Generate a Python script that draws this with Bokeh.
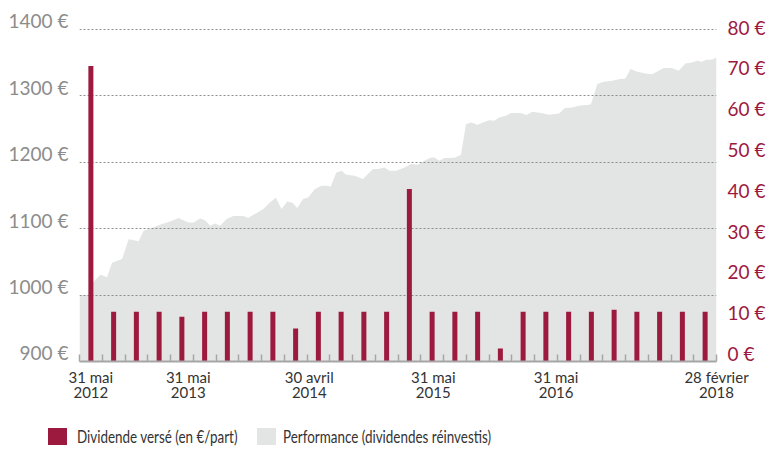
import numpy as np
from bokeh.plotting import figure
from bokeh.layouts import column
from bokeh.models import Range1d, LinearAxis, FixedTicker, Div
from bokeh.embed import file_html
from bokeh.resources import INLINE

# ---- data -------------------------------------------------------------
# dividend paid per period (EUR per share), one bar per period
dividend_per_share = [72.5, 12.2, 12.2, 12.2, 11.0, 12.2, 12.2, 12.2, 12.2, 8.1,
                      12.2, 12.2, 12.2, 12.2, 42.3, 12.2, 12.2, 12.2, 3.2, 12.2,
                      12.2, 12.2, 12.2, 12.7, 12.2, 12.2, 12.2, 12.2]

# performance (dividends reinvested), position in periods and value in EUR
perf_pos = [0.00, 0.48, 0.61, 0.92, 1.21, 1.43, 1.87, 2.16, 2.60, 2.82,
            3.26, 3.62, 3.99, 4.35, 4.79, 5.01, 5.30, 5.52, 5.74, 5.96,
            6.18, 6.47, 6.76, 7.20, 7.42, 7.64, 8.08, 8.37, 8.63, 8.88,
            9.13, 9.36, 9.57, 9.83, 10.05, 10.34, 10.63, 10.92, 11.04, 11.29,
            11.51, 11.73, 12.09, 12.46, 12.90, 13.12, 13.41, 13.63, 13.92, 14.29,
            14.58, 14.87, 15.16, 15.46, 15.60, 15.82, 16.04, 16.48, 16.77, 16.99,
            17.21, 17.50, 17.72, 18.01, 18.23, 18.45, 18.74, 18.96, 19.40, 19.64,
            19.91, 20.28, 20.64, 21.08, 21.34, 21.66, 21.95, 22.39, 22.48, 22.76,
            23.05, 23.41, 23.78, 24.00, 24.22, 24.51, 24.88, 25.17, 25.68, 26.04,
            26.34, 26.63, 26.92, 27.14, 27.36, 27.55, 27.79, 28.00]
perf_value = [1000.0, 1000.0, 1020.0, 1030.6, 1026.8, 1048.6, 1054.2, 1084.3, 1081.0, 1096.8,
              1102.1, 1106.9, 1110.8, 1116.0, 1109.3, 1109.3, 1115.4, 1112.9, 1104.4, 1107.8,
              1104.4, 1114.5, 1119.0, 1119.0, 1116.0, 1120.9, 1129.5, 1139.5, 1146.5, 1129.5,
              1141.0, 1139.0, 1131.0, 1144.6, 1147.0, 1159.6, 1164.6, 1164.6, 1163.1, 1184.6,
              1187.2, 1181.2, 1179.7, 1174.7, 1189.8, 1189.8, 1192.2, 1187.2, 1187.2, 1192.2,
              1197.3, 1196.2, 1202.3, 1207.2, 1207.2, 1202.3, 1206.3, 1206.8, 1211.3, 1257.5,
              1259.9, 1256.5, 1259.9, 1263.5, 1262.5, 1267.5, 1270.0, 1274.1, 1274.1, 1271.1,
              1276.1, 1274.1, 1271.5, 1273.5, 1281.6, 1282.5, 1285.1, 1286.6, 1287.6, 1317.8,
              1321.2, 1322.7, 1325.3, 1326.2, 1340.4, 1336.3, 1333.7, 1332.8, 1341.9, 1341.9,
              1337.8, 1348.8, 1350.3, 1352.9, 1351.4, 1354.4, 1354.4, 1357.8]

x_tick_pos = [0.5, 4.78, 10.1, 15.55, 20.95, 28.0]
x_tick_labels = ["31 mai\n2012", "31 mai\n2013", "30 avril\n2014",
                 "31 mai\n2015", "31 mai\n2016", "28 février\n2018"]
left_ticks = [900, 1000, 1100, 1200, 1300, 1400]
left_labels = ["900 €", "1000 €", "1100 €", "1200 €", "1300 €", "1400 €"]
right_ticks = [0, 10, 20, 30, 40, 50, 60, 70, 80]
right_labels = ["0 €", "10 €", "20 €", "30 €", "40 €", "50 €", "60 €", "70 €", "80 €"]

legend_labels = ["Dividende versé (en €/part)", "Performance (dividendes réinvestis)"]

# ---- styling ----------------------------------------------------------
RED = "#9d1a3f"
AREA = "#e3e4e4"
FONT = "Lato"
# the reference prints its y labels a few pixels above their grid lines
LEFT_LABEL_NUDGE = 13.0    # in EUR of the left scale
RIGHT_LABEL_NUDGE = 2.0    # in EUR of the right scale

n = len(dividend_per_share)
bar_x = np.arange(n) + 0.5

p = figure(width=768, height=410, output_backend="svg", toolbar_location=None,
           x_range=Range1d(0, n), y_range=Range1d(900, 1422.6),
           min_border_left=79, min_border_right=50, min_border_top=14,
           min_border_bottom=49, outline_line_color=None,
           background_fill_color="white", border_fill_color="white")
p.extra_y_ranges = {"div": Range1d(0, 85.1)}

area = p.varea(x=perf_pos, y1=900, y2=perf_value, fill_color=AREA, level="image")
bars = p.vbar(x=bar_x, top=dividend_per_share, bottom=0, width=0.22,
              fill_color=RED, line_color=None, y_range_name="div")

# grid
p.xgrid.visible = False
p.ygrid.ticker = FixedTicker(ticks=left_ticks)
p.ygrid.grid_line_color = "#8c8c8c"
p.ygrid.grid_line_dash = "2 2"
p.ygrid.grid_line_width = 1

# x axis
xa = p.xaxis[0]
xa.ticker = FixedTicker(ticks=x_tick_pos, minor_ticks=list(range(0, n + 1)))
xa.major_label_overrides = dict(zip(x_tick_pos, x_tick_labels))
xa.major_tick_in = 0
xa.major_tick_out = 0
xa.minor_tick_in = 7
xa.minor_tick_out = 0
xa.minor_tick_line_color = "#a6a6a6"
xa.minor_tick_line_width = 1.5
xa.axis_line_color = "#a6a6a6"
xa.axis_line_width = 2
xa.major_label_text_font = FONT
xa.major_label_text_font_size = "15px"
xa.major_label_text_color = "#333333"
xa.major_label_text_line_height = 0.85
xa.major_label_standoff = 6

# left axis
left_pos = [t + LEFT_LABEL_NUDGE for t in left_ticks]
ya = p.yaxis[0]
ya.ticker = FixedTicker(ticks=left_pos)
ya.major_label_overrides = dict(zip(left_pos, left_labels))
ya.axis_line_color = None
ya.major_tick_line_color = None
ya.major_tick_in = 0
ya.major_tick_out = 0
ya.minor_tick_line_color = None
ya.minor_tick_in = 0
ya.minor_tick_out = 0
ya.major_label_standoff = 11
ya.major_label_text_font = FONT
ya.major_label_text_font_size = "19px"
ya.major_label_text_color = "#8c8c8c"

# right axis
right_pos = [t + RIGHT_LABEL_NUDGE for t in right_ticks]
ra = LinearAxis(y_range_name="div", ticker=FixedTicker(ticks=right_pos))
ra.major_label_overrides = dict(zip(right_pos, right_labels))
ra.axis_line_color = None
ra.major_tick_line_color = None
ra.major_tick_in = 0
ra.major_tick_out = 0
ra.minor_tick_line_color = None
ra.minor_tick_in = 0
ra.minor_tick_out = 0
ra.major_label_standoff = 11
ra.major_label_text_font = FONT
ra.major_label_text_font_size = "19px"
ra.major_label_text_color = RED
p.add_layout(ra, "right")

# ---- legend strip (condensed text, like the reference) -----------------
def swatch(color, left):
    return (f'<span style="position:absolute;left:{left}px;top:18px;width:19px;'
            f'height:17px;background:{color}"></span>')

def label(text, left):
    return (f'<span style="position:absolute;left:{left}px;top:17px;height:19px;'
            f'line-height:19px;white-space:nowrap;transform:scaleX(0.79);'
            f'transform-origin:0 50%">{text}</span>')

legend_html = (
    '<div style="position:relative;width:768px;height:45px;'
    f'font-family:{FONT};font-size:17px;color:#333333">'
    f'{swatch(RED, 48)}{label(legend_labels[0], 77)}'
    f'{swatch(AREA, 257)}{label(legend_labels[1], 283)}'
    '</div>'
)
legend_div = Div(text=legend_html, width=768, height=45, margin=0)

layout = column(p, legend_div, spacing=0)
open("out.html", "w").write(file_html(layout, INLINE))
